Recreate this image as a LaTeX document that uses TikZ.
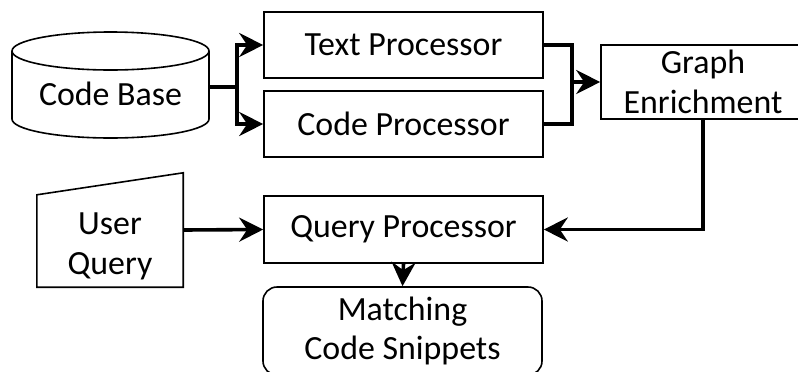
\documentclass[tikz,border=0pt]{standalone}
\usepackage{fontspec}
\setmainfont{Carlito}
\usetikzlibrary{arrows.meta,calc}
\begin{document}
\begin{tikzpicture}[x=1bp,y=1bp,
  box/.style={draw,line width=1.6bp,inner sep=0pt,align=center,font=\fontsize{34}{40}\selectfont},
  txt/.style={inner sep=0pt,align=center,font=\fontsize{34}{40}\selectfont},
  conn/.style={line width=3.6bp},
  arr/.style={line width=3.6bp,-{Stealth[length=24bp,width=24bp,inset=8bp]}}]
\useasboundingbox (0,0) rectangle (798,-371);
% Code Base cylinder
\draw[line width=1.6bp] (12,-51) -- (12,-119) arc[start angle=180,end angle=360,x radius=98.5bp,y radius=19bp] -- (209,-51);
\draw[line width=1.6bp] (110.5,-51) ellipse [x radius=98.5bp,y radius=19bp];
\node[minimum width=197bp,minimum height=40bp,inner sep=0pt] (cb) at (110.5,-87) {};
\node[txt] (cbt) at (110.5,-94) {Code Base};
% processors
\node[box,minimum width=279bp,minimum height=66bp] (tp) at (403.5,-45) {Text Processor};
\node[box,minimum width=279bp,minimum height=66bp] (cp) at (403.5,-124) {Code Processor};
\node[box,minimum width=204bp,minimum height=74bp] (ge) at (703,-82) {Graph\\Enrichment};
\node[box,minimum width=279bp,minimum height=67bp] (qp) at (403.5,-229.5) {Query Processor};
\node[box,rounded corners=14bp,minimum width=279bp,minimum height=88bp,font=\fontsize{34}{38.5}\selectfont] (mc) at (402.5,-331) {Matching\\Code Snippets};
% User Query manual input
\node[minimum width=146bp,minimum height=114bp,inner sep=0pt] (uq) at (110,-230) {};
\draw[line width=1.6bp] (uq.south west) -- (uq.south east) -- (uq.north east) -- ($(uq.north west)+(0,-22)$) -- cycle;
\node[txt] (uqt) at (110,-246) {User\\Query};
% connectors
\coordinate (j1) at (237,-87);
\coordinate (j2) at (572,-82);
\draw[conn] (cb.east) -- (j1);
\draw[arr] (j1) |- (tp.west);
\draw[arr] (j1) |- (cp.west);
\draw[conn] (tp.east) -| (j2);
\draw[conn] (cp.east) -| (j2);
\draw[arr] (j2) -- (ge.west);
\draw[arr] (ge.south) |- (qp.east);
\draw[arr] (uq.east) -- (qp.west);
\draw[arr] (qp.south) -- (mc.north);
\end{tikzpicture}
\end{document}
